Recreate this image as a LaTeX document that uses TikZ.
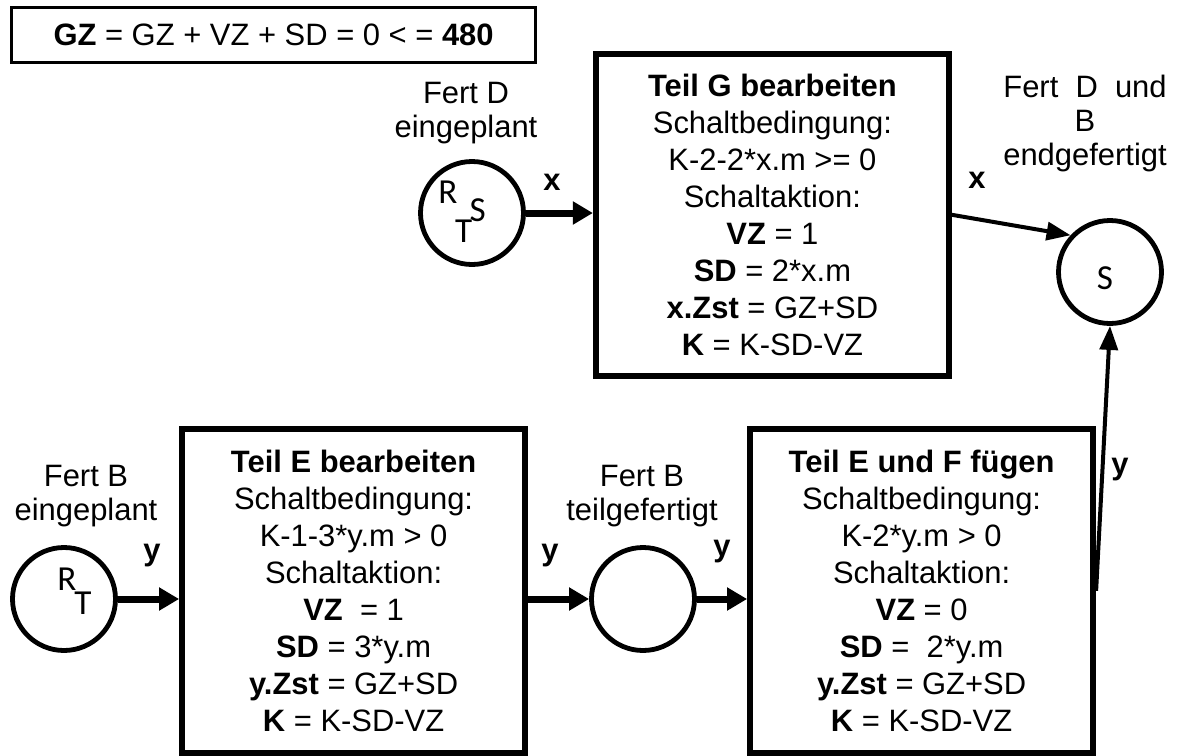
\documentclass[tikz,border=0pt]{standalone}
\usepackage{fontspec}
\setmainfont{Liberation Sans}
\newfontfamily\tokfont{Carlito}
\usepackage{tikz}
\usetikzlibrary{arrows.meta, positioning, calc}
\tikzset{every node/.append style={align=center}}
\tikzset{
  tr/.style={rectangle, draw, line width=1.5mm, minimum width=85.75mm, minimum height=81mm,
    inner sep=0pt, font=\fontsize{22}{26.3}\selectfont},
  pl/.style={circle, draw, line width=1.2mm, minimum size=25.75mm, inner sep=0pt},
  eqn/.style={rectangle, draw, line width=0.75mm, minimum width=131mm, minimum height=13.6mm,
    inner sep=0pt, font=\fontsize{22}{26}\selectfont},
  tok/.style={font=\tokfont\fontsize{25}{25}\selectfont, inner sep=0pt},
  lbl/.style={font=\fontsize{22}{24}\selectfont, inner sep=0pt, anchor=north},
  albl/.style={font=\fontsize{22}{24}\selectfont\bfseries, inner sep=0pt, anchor=base},
  arrow/.style={-{Triangle[length=5mm,width=5.5mm]}, line width=1.75mm},
  darrow/.style={-{Triangle[length=6mm,width=4.5mm]}, line width=1mm}
}
\begin{document}
\begin{tikzpicture}
  \useasboundingbox (0,0) rectangle (295mm,-188.75mm);
  \node[eqn] (eq) at (68.4mm,-8.75mm) {\textbf{GZ} = GZ + VZ + SD = 0 < = \textbf{480}};
  % upper branch
  \node[pl] (plD) at (118mm,-53.25mm) {};
  \node[tok] (plDr) at ($(plD)+(-6mm,5.1mm)$) {R};
  \node[tok] (plDs) at ($(plD)+(1.4mm,0.75mm)$) {S};
  \node[tok] (plDt) at ($(plD)+(-2.1mm,-4.6mm)$) {T};
  \node[lbl] (lblD) at (116.5mm,-20.5mm) {Fert D\\eingeplant};
  \node[tr, minimum width=88.25mm, minimum height=80.6mm] (trG) at (193.1mm,-53.7mm)
    {\textbf{Teil G bearbeiten}\\Schaltbedingung:\\K-2-2*x.m >= 0\\Schaltaktion:\\
     \textbf{VZ} = 1\\\textbf{SD} = 2*x.m\\\textbf{x.Zst} = GZ+SD\\\textbf{K} = K-SD-VZ};
  \node[pl] (plS) at (277.5mm,-68mm) {};
  \node[tok] (plSs) at ($(plS)+(-1.25mm,-1.5mm)$) {S};
  \node[lbl] (lblS) at (271.25mm,-18.75mm) {Fert~ D~ und\\B\\endgefertigt};
  % lower branch
  \node[pl] (plB) at (16mm,-149.75mm) {};
  \node[tok] (plBr) at ($(plB)+(0.75mm,4.9mm)$) {R};
  \node[tok] (plBt) at ($(plB)+(4.75mm,-1mm)$) {T};
  \node[lbl] (lblB) at (21.5mm,-116.25mm) {Fert B\\eingeplant};
  \node[tr] (trE) at (88.4mm,-147.7mm)
    {\textbf{Teil E bearbeiten}\\Schaltbedingung:\\K-1-3*y.m > 0\\Schaltaktion:\\
     \textbf{VZ}~ = 1\\\textbf{SD} = 3*y.m\\\textbf{y.Zst} = GZ+SD\\\textbf{K} = K-SD-VZ};
  \node[pl] (plM) at (160.75mm,-149.75mm) {};
  \node[lbl] (lblM) at (160.5mm,-116.25mm) {Fert B\\teilgefertigt};
  \node[tr] (trF) at (230.4mm,-147.7mm)
    {\textbf{Teil E und F fügen}\\Schaltbedingung:\\K-2*y.m > 0\\Schaltaktion:\\
     \textbf{VZ} = 0\\\textbf{SD} =~ 2*y.m\\\textbf{y.Zst} = GZ+SD\\\textbf{K} = K-SD-VZ};
  % connectors
  \draw[arrow] (plD.east) -- (trG.west |- plD.east);
  \draw[darrow] (trG.east) -- (plS.137);
  \draw[arrow] (plB.east) -- (trE.west |- plB.east);
  \draw[arrow] (trE.east |- plM.west) -- (plM.west);
  \draw[arrow] (plM.east) -- (trF.west |- plM.east);
  \draw[darrow] (trF.east) -- (plS.south);
  \node[albl] (x1) at (138mm,-47.5mm) {x};
  \node[albl] (x2) at (244.25mm,-47mm) {x};
  \node[albl] (y1) at (38mm,-140mm) {y};
  \node[albl] (y2) at (137.5mm,-140mm) {y};
  \node[albl] (y3) at (180.5mm,-139mm) {y};
  \node[albl] (y4) at (280mm,-118.5mm) {y};
\end{tikzpicture}
\end{document}
